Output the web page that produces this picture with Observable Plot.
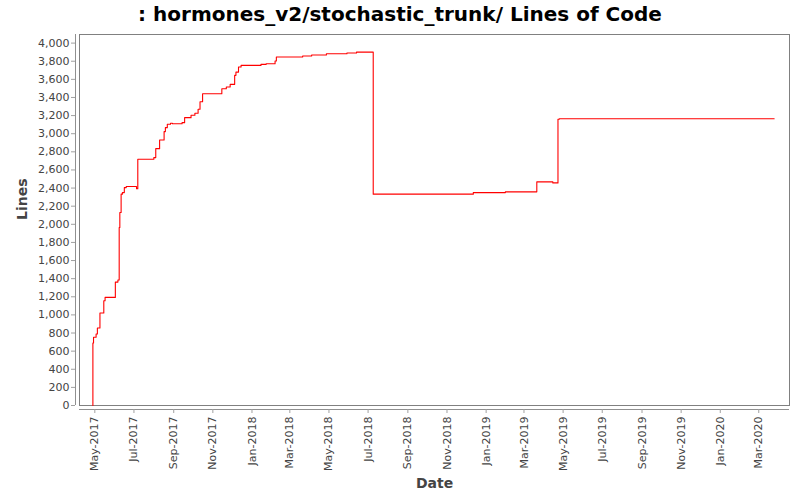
<!DOCTYPE html>
<html>
<head>
<meta charset="utf-8">
<script src="https://cdn.jsdelivr.net/npm/d3@7"></script>
<script src="https://cdn.jsdelivr.net/npm/@observablehq/plot@0.6"></script>
<style>
  html, body { margin: 0; padding: 0; background: #fff; }
  #wrap { width: 800px; height: 500px; position: relative; overflow: hidden; background: #fff; }
  #title { height: 28px; line-height: 28px; text-align: center; font-family: "DejaVu Sans", sans-serif; font-weight: bold; font-size: 20px; color: #000; white-space: nowrap; }
  svg { display: block; }
</style>
</head>
<body>
<div id="wrap">
  <div id="title">: hormones_v2/stochastic_trunk/ Lines of Code</div>
  <div id="chart"></div>
</div>
<script>
const dates = [
  "2017-04-28", "2017-04-28", "2017-04-29", "2017-05-03", "2017-05-05", "2017-05-09",
  "2017-05-15", "2017-05-17", "2017-06-02", "2017-06-06", "2017-06-08", "2017-06-08",
  "2017-06-09", "2017-06-11", "2017-06-13", "2017-06-16", "2017-06-19", "2017-07-05",
  "2017-07-07", "2017-08-01", "2017-08-04", "2017-08-10", "2017-08-17", "2017-08-19",
  "2017-08-22", "2017-08-27", "2017-08-30", "2017-09-14", "2017-09-18", "2017-09-28",
  "2017-10-04", "2017-10-09", "2017-10-12", "2017-10-16", "2017-11-15", "2017-11-22",
  "2017-11-28", "2017-12-05", "2017-12-07", "2017-12-11", "2017-12-15", "2018-01-15",
  "2018-01-23", "2018-02-06", "2018-02-08", "2018-03-21", "2018-04-04", "2018-04-27",
  "2018-05-29", "2018-06-13", "2018-07-09", "2018-12-12", "2019-01-31", "2019-03-21",
  "2019-04-15", "2019-04-23", "2019-04-25", "2020-03-25"
];
const lines = [
  0, 690, 753, 790, 856, 1021,
  1157, 1193, 1362, 1385, 1653, 1965,
  2130, 2333, 2350, 2405, 2417, 2392,
  2718, 2736, 2835, 2931, 3023, 3067,
  3104, 3115, 3110, 3122, 3177, 3203,
  3225, 3270, 3353, 3441, 3497, 3515,
  3545, 3644, 3680, 3736, 3754, 3765,
  3772, 3802, 3846, 3857, 3868, 3882,
  3890, 3901, 2333, 2350, 2358, 2468,
  2457, 3159, 3165, 3165
];
const yTicks = [0, 200, 400, 600, 800, 1000, 1200, 1400, 1600, 1800, 2000, 2200, 2400, 2600, 2800, 3000, 3200, 3400, 3600, 3800, 4000];
const xTickDates = [
  "2017-05-01", "2017-07-01", "2017-09-01", "2017-11-01", "2018-01-01", "2018-03-01",
  "2018-05-01", "2018-07-01", "2018-09-01", "2018-11-01", "2019-01-01", "2019-03-01",
  "2019-05-01", "2019-07-01", "2019-09-01", "2019-11-01", "2020-01-01", "2020-03-01"
];
const xDomain = [new Date("2017-04-07T03:00:00Z"), new Date("2020-04-17T22:00:00Z")];
const yDomain = [0, 4095];

const data = dates.map((d, i) => ({date: new Date(d + "T00:00:00Z"), lines: lines[i]}));
const xTicks = xTickDates.map(d => new Date(d + "T00:00:00Z"));

const chart = Plot.plot({
  width: 800,
  height: 472,
  marginTop: 6,
  marginBottom: 95,
  marginLeft: 79,
  marginRight: 11,
  style: {fontFamily: "DejaVu Sans, sans-serif", fontSize: "11px", background: "#fff", overflow: "visible"},
  x: {type: "utc", domain: xDomain, axis: null},
  y: {domain: yDomain, axis: null},
  marks: [
    Plot.frame({stroke: "#808080"}),
    Plot.ruleX([xDomain[0]], {dx: -4, stroke: "#909090"}),
    Plot.ruleY([0], {dy: 4, stroke: "#909090"}),
    Plot.axisY({ticks: yTicks, tickFormat: d3.format(","), tickSize: 4, tickPadding: 2, dx: -4, stroke: "#a0a0a0", fill: "#444", label: null}),
    Plot.axisX({ticks: xTicks, tickFormat: d3.utcFormat("%b-%Y"), tickRotate: -90, tickSize: 4, tickPadding: 3, dy: 4, stroke: "#a0a0a0", fill: "#444", label: null}),
    Plot.line(data, {x: "date", y: "lines", curve: "step-after", stroke: "red", strokeWidth: 1.1}),
    Plot.text(["Lines"], {text: d => d, frameAnchor: "left", dx: -57, rotate: -90, fontWeight: "bold", fontSize: 14, fill: "#444"}),
    Plot.text(["Date"], {text: d => d, frameAnchor: "bottom", dy: 82, fontWeight: "bold", fontSize: 14, fill: "#444"})
  ]
});
document.getElementById("chart").appendChild(chart);
</script>
</body>
</html>
